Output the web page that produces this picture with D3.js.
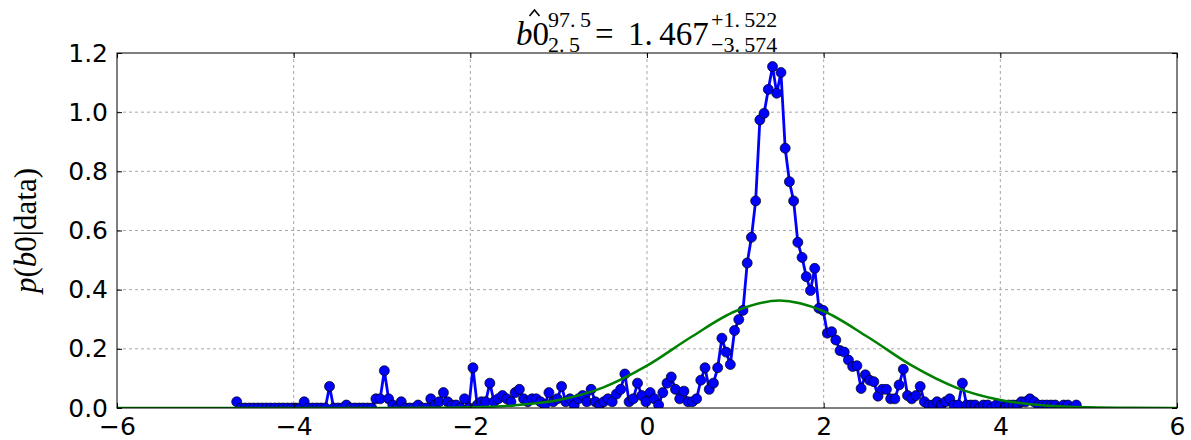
<!DOCTYPE html>
<html>
<head>
<meta charset="utf-8">
<script src="https://cdn.jsdelivr.net/npm/d3@7"></script>
<style>
  body { margin: 0; background: #fff; }
  svg { display: block; }
</style>
</head>
<body>
<svg id="chart" width="1191" height="440"></svg>
<script>
// Histogram of posterior samples for b0 (density per bin), first/last bin centre
const binFirst = -4.645;
const binLast = 4.86;
const density = [
  0.021,0,0,0,0,0,0,0,0,0,
  0,0,0,0,0,0,0.021,0,0,0,
  0,0,0.073,0,0,0,0.010,0,0,0,
  0,0,0,0.031,0.031,0.126,0.031,0.010,0,0.021,
  0,0,0,0.010,0,0,0.031,0.010,0.021,0.052,
  0.021,0.010,0.010,0,0.031,0,0.136,0.010,0.021,0.021,
  0.084,0.021,0.031,0.042,0.031,0.021,0.052,0.063,0.031,0.021,
  0.031,0.031,0.021,0.010,0.052,0.021,0.031,0.073,0.021,0.031,
  0.010,0.031,0.042,0.021,0.063,0.021,0.010,0.021,0.031,0.021,
  0.047,0.063,0.115,0.021,0.031,0.084,0.042,0.021,0.052,0.031,
  0.010,0.052,0.084,0.105,0.063,0.031,0.057,0.021,0.021,0.031,
  0.094,0.136,0.063,0.084,0.136,0.236,0.189,0.147,0.262,0.299,
  0.330,0.490,0.577,0.700,0.974,0.996,1.077,1.154,1.064,1.134,
  0.878,0.765,0.700,0.560,0.509,0.444,0.397,0.472,0.337,0.330,
  0.253,0.258,0.230,0.194,0.189,0.162,0.140,0.143,0.066,0.112,
  0.094,0.089,0.040,0.063,0.063,0.031,0.031,0.078,0.131,0.042,
  0.031,0.042,0.073,0.021,0.010,0.010,0.021,0.010,0.021,0.031,
  0.010,0.010,0.084,0.010,0.010,0.010,0,0.010,0.010,0,
  0.010,0.010,0,0.010,0.010,0.010,0.021,0.021,0.031,0.021,
  0.010,0.010,0.010,0.010,0.010,0,0.010,0.010,0,0.010
];

// Normal approximation drawn over the histogram
const fitX = [-6,-5.5,-5,-4.5,-4,-3.5,-3,-2.5,-2,-1.5,-1,-0.5,0,0.5,1,1.5,2,2.5,3,3.5,4,4.5,5,5.5,6];
const fitY = [0,0,0,0,0,0,0.0001,0.0005,0.0023,0.0088,0.027,0.069,0.143,0.240,0.327,0.363,0.327,0.240,0.143,0.069,0.027,0.0088,0.0023,0.0005,0.0001];

const xTicks = [-6,-4,-2,0,2,4,6];
const yTicks = [0,0.2,0.4,0.6,0.8,1.0,1.2];

const M = { left: 117, right: 1177, top: 53, bottom: 408 };
const tickFont = "'DejaVu Sans', sans-serif";
const mathFont = "'Liberation Serif', 'DejaVu Serif', serif";

const svg = d3.select("#chart");
const x = d3.scaleLinear().domain([-6, 6]).range([M.left, M.right]);
const y = d3.scaleLinear().domain([0, 1.2]).range([M.bottom, M.top]);

const step = (binLast - binFirst) / (density.length - 1);
const points = density.map((v, i) => ({ x: binFirst + i * step, y: v }));
const fit = fitX.map((v, i) => ({ x: v, y: fitY[i] }));

// grid
const grid = svg.append("g").attr("stroke", "#a8a8a8").attr("stroke-width", 1)
  .attr("stroke-dasharray", "3,3");
grid.selectAll("line.v").data(xTicks.slice(1, -1)).join("line").attr("class", "v")
  .attr("x1", d => x(d)).attr("x2", d => x(d)).attr("y1", M.top).attr("y2", M.bottom);
grid.selectAll("line.h").data(yTicks.slice(1, -1)).join("line").attr("class", "h")
  .attr("y1", d => y(d)).attr("y2", d => y(d)).attr("x1", M.left).attr("x2", M.right);

// clip everything to the axes box
svg.append("defs").append("clipPath").attr("id", "plotArea").append("rect")
  .attr("x", M.left).attr("y", M.top)
  .attr("width", M.right - M.left).attr("height", M.bottom - M.top);
const plot = svg.append("g").attr("clip-path", "url(#plotArea)");

const line = d3.line().x(d => x(d.x)).y(d => y(d.y));

plot.append("path").datum(points)
  .attr("fill", "none").attr("stroke", "#0000ff").attr("stroke-width", 2.8)
  .attr("stroke-linejoin", "round").attr("d", line);
plot.selectAll("circle").data(points).join("circle")
  .attr("cx", d => x(d.x)).attr("cy", d => y(d.y)).attr("r", 5)
  .attr("fill", "#0000ff").attr("stroke", "#000").attr("stroke-width", 0.7);

plot.append("path").datum(fit)
  .attr("fill", "none").attr("stroke", "#008000").attr("stroke-width", 2.5)
  .attr("d", d3.line().curve(d3.curveMonotoneX).x(d => x(d.x)).y(d => y(d.y)));

// axes: inward ticks on all four sides, labels bottom and left
function styleAxis(g) {
  g.select(".domain").remove();
  g.selectAll(".tick line").attr("stroke", "#000");
  g.selectAll("text").attr("fill", "#000").attr("font-family", tickFont).attr("font-size", 25);
}
svg.append("g").attr("transform", `translate(0,${M.bottom})`)
  .call(d3.axisBottom(x).tickValues(xTicks).tickSizeInner(-5).tickSizeOuter(0).tickPadding(9))
  .call(styleAxis);
svg.append("g").attr("transform", `translate(0,${M.top})`)
  .call(d3.axisTop(x).tickValues(xTicks).tickSizeInner(-5).tickSizeOuter(0).tickFormat(""))
  .call(styleAxis);
svg.append("g").attr("transform", `translate(${M.left},0)`)
  .call(d3.axisLeft(y).tickValues(yTicks).tickFormat(d3.format(".1f"))
    .tickSizeInner(-5).tickSizeOuter(0).tickPadding(9))
  .call(styleAxis);
svg.append("g").attr("transform", `translate(${M.right},0)`)
  .call(d3.axisRight(y).tickValues(yTicks).tickSizeInner(-5).tickSizeOuter(0).tickFormat(""))
  .call(styleAxis);

svg.append("rect").attr("x", M.left).attr("y", M.top)
  .attr("width", M.right - M.left).attr("height", M.bottom - M.top)
  .attr("fill", "none").attr("stroke", "#000").attr("stroke-width", 1);

// y axis label: p(b0|data)
const yl = svg.append("text")
  .attr("transform", `translate(36,${(M.top + M.bottom) / 2}) rotate(-90)`)
  .attr("text-anchor", "middle").attr("font-family", mathFont).attr("font-size", 31)
  .attr("fill", "#000");
yl.append("tspan").attr("font-style", "italic").text("p");
yl.append("tspan").text("(");
yl.append("tspan").attr("font-style", "italic").text("b");
yl.append("tspan").text("0|data)");

// title: b0-hat with 97.5/2.5 percentiles, the median and its offsets
const title = svg.append("g").attr("font-family", mathFont).attr("fill", "#000");
// numbers are set with a small gap after the decimal point
function put(intPart, frac, px, py, size, italic) {
  const t = title.append("text").attr("x", px).attr("y", py).attr("font-size", size)
    .attr("font-style", italic ? "italic" : "normal");
  t.append("tspan").text(intPart);
  if (frac) t.append("tspan").attr("dx", size * 0.2).text(frac);
  return t.node().getComputedTextLength();
}
const base = 45, up = 27, down = 52;
const bx = 516;
const wb = put("b", null, bx, base, 33, true);
const w0 = put("0", null, bx + wb, base, 33, false);
// circumflex accent over b0
const hx = bx + (wb + w0) / 2 + 2;
title.append("path")
  .attr("d", `M${hx - 5},${base - 29} L${hx},${base - 35} L${hx + 5},${base - 29}`)
  .attr("fill", "none").attr("stroke", "#000").attr("stroke-width", 1.6);
put("97.", "5", 548, up, 22, false);
put("2.", "5", 548, down, 22, false);
put("=", null, 595, base, 33, false);
put("1.", "467", 628, base, 33, false);
put("+1.", "522", 711, up, 22, false);
put("\u22123.", "574", 711, down, 22, false);
</script>
</body>
</html>
